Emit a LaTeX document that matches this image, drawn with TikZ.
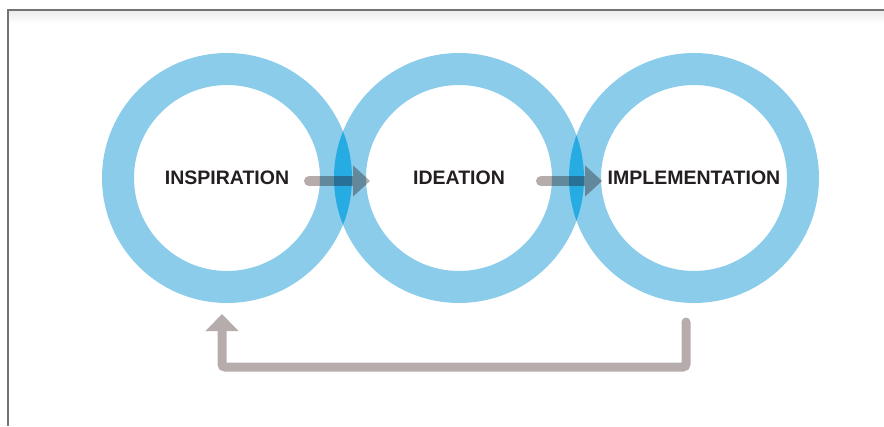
\documentclass[tikz,border=0pt]{standalone}
\usepackage{fontspec}
\setmainfont{Liberation Sans}
\usetikzlibrary{arrows.meta}

\definecolor{ringblue}{RGB}{138,204,234}
\definecolor{lensblue}{RGB}{38,172,226}
\definecolor{loopgray}{RGB}{182,172,172}
\definecolor{flowonring}{RGB}{98,136,156}
\definecolor{flowonlens}{RGB}{40,112,150}
\definecolor{labelink}{RGB}{35,31,32}

\begin{document}
\begin{tikzpicture}[x=1pt, y=-1pt,
  stage/.style={circle, draw=ringblue, line width=32pt, minimum size=218pt,
    inner sep=0pt, outer sep=0pt, text=labelink,
    font=\bfseries\fontsize{19.5}{22}\selectfont},
  flow/.style={loopgray, line width=10pt, line cap=round,
    -{Triangle[length=17pt, width=30pt]}},
  back/.style={loopgray, line width=9pt, line cap=round, rounded corners=3pt,
    -{Triangle[length=17pt, width=32pt]}}]

  \useasboundingbox (0,0) rectangle (884,426);

  % frame
  \shade[top color=black!8, bottom color=white] (8,10) rectangle (884,24);
  \draw[black!55, line width=1.5pt] (884,10) -- (8,10) -- (8,426);

  % the three stages
  \node[stage] (insp) at (227,178) {INSPIRATION};
  \node[stage] (idea) at (459,178) {IDEATION};
  \node[stage] (impl) at (694,178) {IMPLEMENTATION};

  \foreach \a/\b in {insp/idea, idea/impl} {
    % overlap of the two rings
    \begin{scope}
      \clip (\a) circle (125);
      \fill[lensblue] (\b) circle (125);
    \end{scope}
    % arrow, darker where it crosses the rings
    \coordinate (tail) at ([xshift=-27pt, yshift=-3pt]\a.east);
    \coordinate (tip) at ([xshift=34pt, yshift=-3pt]\a.east);
    \draw[flow] (tail) -- (tip);
    \foreach \c in {\a, \b} {
      \begin{scope}[even odd rule]
        \clip (\c) circle (125) (\c) circle (93);
        \draw[flow, flowonring] (tail) -- (tip);
      \end{scope}
    }
    \begin{scope}
      \clip (\a) circle (125);
      \clip (\b) circle (125);
      \draw[flow, flowonlens] (tail) -- (tip);
    \end{scope}
  }

  % loop back to the start
  \draw[back] ([xshift=-8pt, yshift=-35pt]impl.south) -- ++(0,45)
    -| ([xshift=-5pt, yshift=-27pt]insp.south);

\end{tikzpicture}
\end{document}
